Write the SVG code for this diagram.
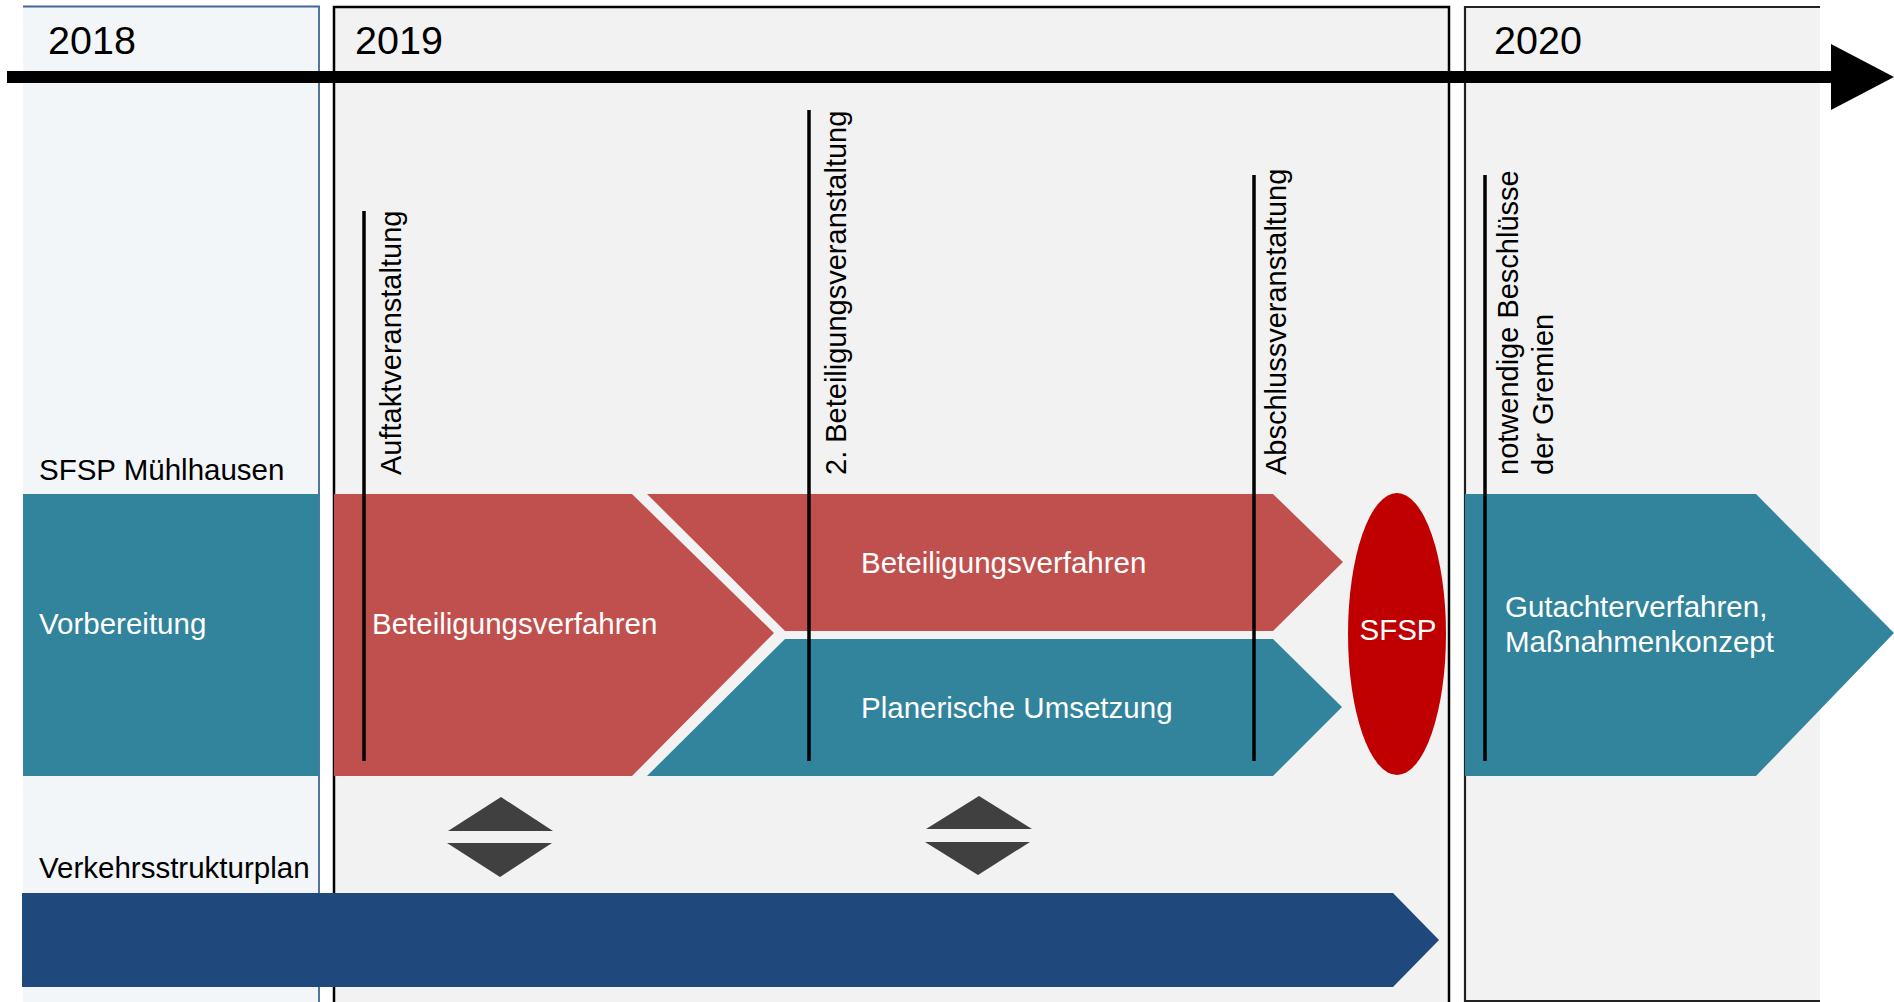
<svg xmlns="http://www.w3.org/2000/svg" width="1894" height="1002" viewBox="0 0 1894 1002">
  <style>
    text { font-family: "Liberation Sans", Arial, sans-serif; }
    .year { font-size: 39.5px; fill: #000; }
    .lbl { font-size: 29.5px; fill: #000; }
    .vlbl { font-size: 29px; fill: #000; }
    .wlbl { font-size: 29.5px; fill: #fff; }
    .red { fill: #C0504D; }
    .teal { fill: #31849B; }
    .navy { fill: #1F497D; }
    .tri { fill: #404040; }
    .ms { stroke: #000; stroke-width: 3.5; fill: none; }
  </style>
  <rect x="0" y="0" width="1894" height="1002" fill="#ffffff"/>

  <g id="panel-2018">
    <rect x="23" y="6" width="296" height="1000" fill="#F3F6F8"/>
    <path d="M23,6.5 H319 V1002" fill="none" stroke="#41679A" stroke-width="1.8"/>
    <text class="year" x="48" y="54">2018</text>
  </g>
  <g id="panel-2019">
    <rect x="334" y="7" width="1115" height="1000" fill="#F2F2F2" stroke="#000" stroke-width="2.5"/>
    <text class="year" x="355" y="54">2019</text>
  </g>
  <g id="panel-2020">
    <rect x="1465" y="7" width="355" height="994" fill="#F2F2F2"/>
    <path d="M1820,7 H1465 V1001 H1820" fill="none" stroke="#222" stroke-width="2.2"/>
    <text class="year" x="1494" y="54">2020</text>
  </g>

  <g id="timeline">
    <rect x="7" y="71" width="1826" height="12" fill="#000"/>
    <polygon points="1831,44 1894,77 1831,110" fill="#000"/>
  </g>

  <g id="sfsp-label">
    <text class="lbl" x="39" y="480">SFSP Mühlhausen</text>
  </g>

  <g id="vorbereitung">
    <rect class="teal" x="23" y="494" width="296" height="282"/>
    <text class="wlbl" x="39" y="634">Vorbereitung</text>
  </g>

  <g id="beteiligung-1">
    <polygon class="red" points="334,494 632,494 774,633 632,776 334,776"/>
    <text class="wlbl" x="372" y="634">Beteiligungsverfahren</text>
  </g>

  <g id="beteiligung-2">
    <polygon class="red" points="647,494 1273,494 1343,562 1273,631 785,631"/>
    <text class="wlbl" x="861" y="573">Beteiligungsverfahren</text>
  </g>

  <g id="planerische-umsetzung">
    <polygon class="teal" points="785,639 1273,639 1342,707 1273,776 647,776"/>
    <text class="wlbl" x="861" y="718">Planerische Umsetzung</text>
  </g>

  <g id="sfsp">
    <ellipse cx="1397" cy="634" rx="49" ry="141" fill="#C00000"/>
    <text class="wlbl" x="1398" y="640" text-anchor="middle">SFSP</text>
  </g>

  <g id="gutachter">
    <polygon class="teal" points="1465,494 1756,494 1894,633 1756,776 1465,776"/>
    <text class="wlbl" x="1505" y="617">Gutachterverfahren,</text>
    <text class="wlbl" x="1505" y="652">Maßnahmenkonzept</text>
  </g>

  <g id="verkehrsstrukturplan">
    <text class="lbl" x="39" y="878">Verkehrsstrukturplan</text>
    <polygon class="navy" points="22,893 1393,893 1439,940 1393,987 22,987"/>
  </g>

  <g id="exchange-1">
    <polygon class="tri" points="501,797 553,831 448,831"/>
    <polygon class="tri" points="447,843 552,843 500,877"/>
  </g>
  <g id="exchange-2">
    <polygon class="tri" points="979,796 1032,829 926,829"/>
    <polygon class="tri" points="925,842 1030,842 978,875"/>
  </g>

  <g id="connectors">
    <line class="ms" x1="364" y1="211" x2="364" y2="761"/>
    <line class="ms" x1="809" y1="110" x2="809" y2="761"/>
    <line class="ms" x1="1254" y1="175" x2="1254" y2="761"/>
    <line class="ms" x1="1485" y1="175" x2="1485" y2="761"/>
  </g>

  <g id="milestone-labels">
    <text class="vlbl" x="401" y="475" transform="rotate(-90 401 475)">Auftaktveranstaltung</text>
    <text class="vlbl" x="846" y="475" transform="rotate(-90 846 475)">2. Beteiligungsveranstaltung</text>
    <text class="vlbl" x="1286" y="475" transform="rotate(-90 1286 475)">Abschlussveranstaltung</text>
    <text class="vlbl" x="1518" y="475" transform="rotate(-90 1518 475)">notwendige Beschlüsse</text>
    <text class="vlbl" x="1553" y="475" transform="rotate(-90 1553 475)">der Gremien</text>
  </g>
</svg>
